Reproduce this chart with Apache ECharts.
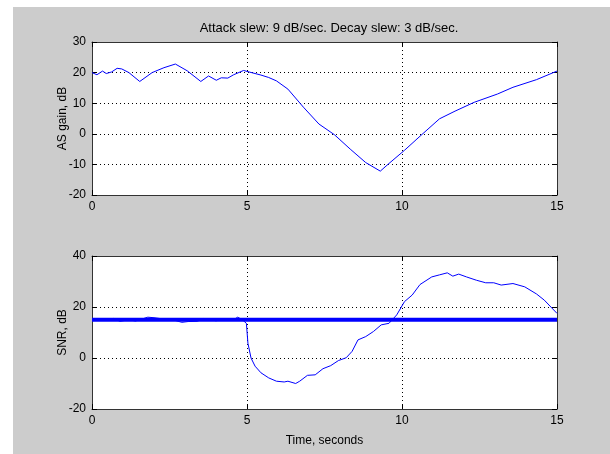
<!DOCTYPE html>
<html>
<head>
<meta charset="utf-8">
<script src="https://cdn.jsdelivr.net/npm/echarts@6/dist/echarts.min.js"></script>
<style>
  body { margin: 0; background: #fff; }
  #fig { position: absolute; left: 13px; top: 7px; width: 597px; height: 447px; background: #cccccc; }
  #line { position: absolute; left: 0; top: 0; width: 610px; height: 454px; }
</style>
</head>
<body>
<div id="fig"></div>
<div id="line"></div>
<script>
// upper plot: AS gain over time
var gainT  = [0, 0.16, 0.34, 0.46, 0.63, 0.81, 0.96, 1.19, 1.54, 1.94, 2.32, 2.69, 3.07, 3.51, 3.76, 4.01, 4.17, 4.38, 4.57, 4.89,
              5.07, 5.45, 5.70, 5.95, 6.32, 6.82, 7.32, 7.82, 8.33, 8.83, 9.30, 9.58, 10.08, 10.58, 11.21, 11.71, 12.33, 13.08, 13.58, 14.34, 15];
var gainDb = [20, 19.3, 20.5, 19.7, 20.2, 21.4, 21.2, 20, 17.1, 20, 21.6, 22.8, 20.6, 17.1, 18.9, 17.5, 18.3, 18.2, 19.3, 20.7,
              20.2, 19.2, 18.4, 17.3, 14.6, 8.7, 3.2, -0.3, -5, -9.4, -12.2, -9.7, -5.4, -0.8, 4.9, 7.4, 10.3, 13, 15.2, 17.7, 20.5];

// lower plot: SNR over time
var snrT  = [0, 0.7, 0.9, 1.2, 1.4, 1.8, 2.0, 2.3, 2.6, 2.9, 3.1, 3.4, 3.6, 3.8, 4.0, 4.3, 4.6, 4.7, 4.85, 4.98,
             5.03, 5.13, 5.26, 5.45, 5.70, 5.95, 6.2, 6.32, 6.57, 6.7, 6.95, 7.2, 7.45, 7.7, 7.95, 8.2, 8.39, 8.58, 8.83, 9.08,
             9.33, 9.58, 9.83, 10.08, 10.33, 10.58, 10.96, 11.21, 11.46, 11.64, 11.83, 12.08, 12.4, 12.7, 12.96, 13.2, 13.58, 13.96, 14.34, 14.59, 15];
var snrDb = [15, 15.5, 14.4, 15, 14.5, 16, 15.8, 15.3, 15, 14, 14.3, 14.4, 15.5, 15, 14.6, 15.2, 15.3, 16, 15, 13.6,
             5.8, 0, -3.2, -5.8, -7.8, -9.1, -9.4, -9.1, -10, -9.1, -6.8, -6.6, -4.2, -3, -1, 0.1, 2.6, 7.1, 8.4, 10.4,
             13, 13.6, 16.9, 22.1, 24.7, 28.8, 31.8, 32.6, 33.4, 32.1, 32.9, 31.8, 30.5, 29.5, 29.5, 28.6, 29.2, 27.9, 25.1, 22.7, 17.5];

// target SNR line
var targetT  = [0, 15];
var targetDb = [15, 15];

var xTicks    = [0, 5, 10, 15];
var gainTicks = [-20, -10, 0, 10, 20, 30];
var snrTicks  = [-20, 0, 20, 40];

function pairs(xs, ys) {
    var out = [];
    for (var i = 0; i < xs.length; i++) {
        out.push([xs[i], ys[i]]);
    }
    return out;
}

var font = 'Liberation Sans, Arial, sans-serif';
var dotted = {color: '#000', width: 1, type: [1, 3]};

function xAxis(grid, pos, ticks, name) {
    var main = pos == 'bottom';
    return {
        type: 'value', gridIndex: grid, position: pos,
        min: ticks[0], max: ticks[ticks.length - 1], interval: ticks[1] - ticks[0],
        name: main ? name : '', nameLocation: 'middle', nameGap: 26, nameMoveOverlap: false,
        nameTextStyle: {color: '#000', fontFamily: font, fontSize: 12},
        axisLine: {show: true, onZero: false, lineStyle: {color: '#333', width: 1}},
        axisTick: {show: true, inside: true, length: 5, lineStyle: {color: '#000'}},
        axisLabel: {show: main, margin: 6, color: '#000', fontFamily: font, fontSize: 12},
        splitLine: {show: main, lineStyle: dotted}
    };
}

function yAxis(grid, pos, ticks, name) {
    var main = pos == 'left';
    return {
        type: 'value', gridIndex: grid, position: pos,
        min: ticks[0], max: ticks[ticks.length - 1], interval: ticks[1] - ticks[0],
        name: main ? name : '', nameLocation: 'middle', nameGap: 23, nameMoveOverlap: false,
        nameTextStyle: {color: '#000', fontFamily: font, fontSize: 12},
        axisLine: {show: true, onZero: false, lineStyle: {color: '#333', width: 1}},
        axisTick: {show: true, inside: true, length: 5, lineStyle: {color: '#000'}},
        axisLabel: {show: main, margin: 6, color: '#000', fontFamily: font, fontSize: 12},
        splitLine: {show: main, lineStyle: dotted}
    };
}

var chart = echarts.init(document.getElementById('line'), null, {renderer: 'canvas'});

chart.setOption({
    animation: false,
    title: {
        text: 'Attack slew: 9 dB/sec. Decay slew: 3 dB/sec.',
        left: 324, top: 17, textAlign: 'center',
        textStyle: {fontFamily: font, fontSize: 13, fontWeight: 'normal', color: '#000'}
    },
    grid: [
        {left: 92, top: 42, width: 465, height: 153, show: true, backgroundColor: '#fff', borderWidth: 0},
        {left: 92, top: 256, width: 465, height: 153, show: true, backgroundColor: '#fff', borderWidth: 0}
    ],
    xAxis: [
        xAxis(0, 'bottom', xTicks, ''),
        xAxis(0, 'top', xTicks, ''),
        xAxis(1, 'bottom', xTicks, 'Time, seconds'),
        xAxis(1, 'top', xTicks, '')
    ],
    yAxis: [
        yAxis(0, 'left', gainTicks, 'AS gain, dB'),
        yAxis(0, 'right', gainTicks, ''),
        yAxis(1, 'left', snrTicks, 'SNR, dB'),
        yAxis(1, 'right', snrTicks, '')
    ],
    series: [
        {
            type: 'line', xAxisIndex: 0, yAxisIndex: 0,
            data: pairs(gainT, gainDb),
            showSymbol: false, silent: true,
            lineStyle: {color: '#0000ff', width: 1}
        },
        {
            type: 'line', xAxisIndex: 2, yAxisIndex: 2,
            data: pairs(snrT, snrDb),
            showSymbol: false, silent: true,
            lineStyle: {color: '#0000ff', width: 1}
        },
        {
            type: 'line', xAxisIndex: 2, yAxisIndex: 2, z: 5,
            data: pairs(targetT, targetDb),
            showSymbol: false, silent: true,
            lineStyle: {color: '#0000ff', width: 4}
        }
    ]
});
</script>
</body>
</html>
